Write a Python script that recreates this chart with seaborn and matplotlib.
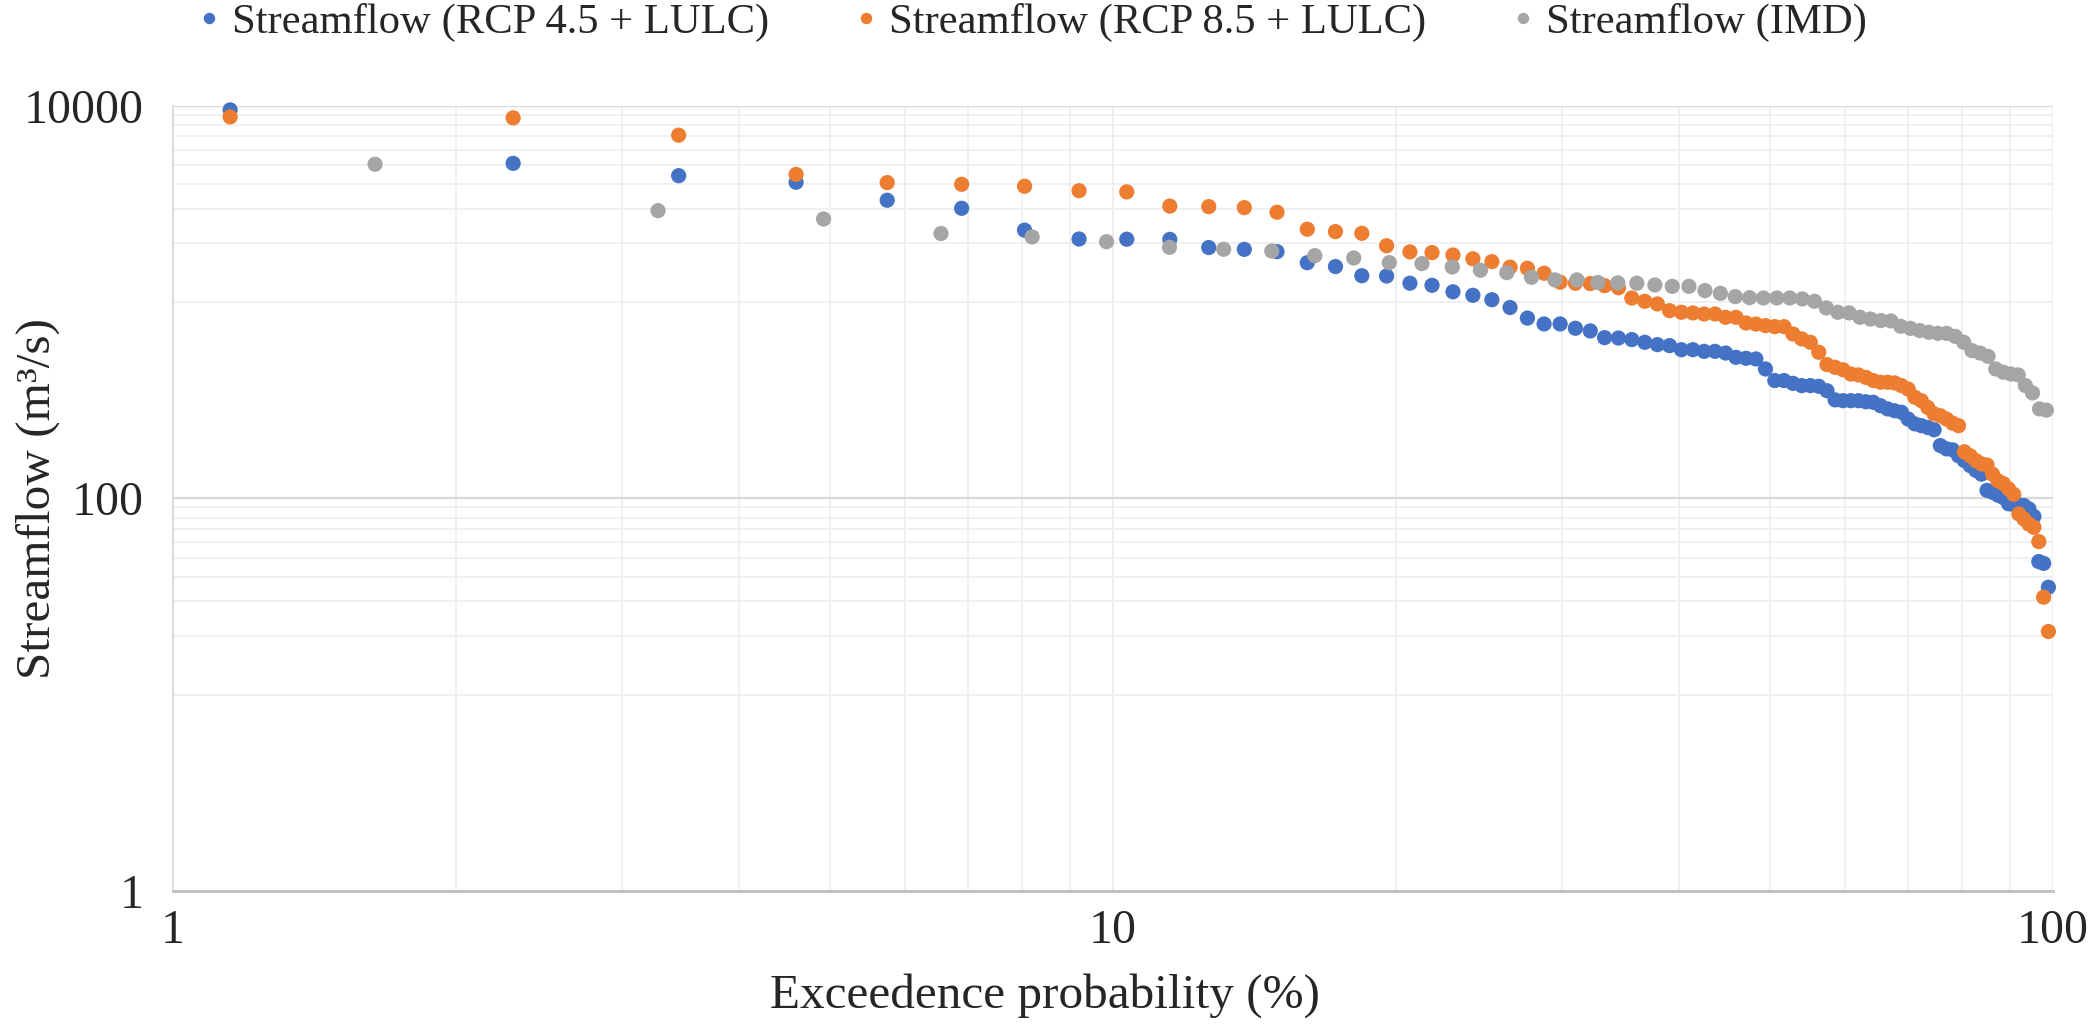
import pandas as pd
import seaborn as sns
import matplotlib
matplotlib.use('Agg')
from matplotlib import pyplot as plt
from matplotlib.ticker import FixedLocator, NullFormatter

# exceedence probability (%) of each ranked flow
x_rcp = [1.15, 2.30, 3.45, 4.60, 5.75, 6.90, 8.05, 9.20, 10.34, 11.49,
         12.64, 13.79, 14.94, 16.09, 17.24, 18.39, 19.54, 20.69, 21.84, 22.99,
         24.14, 25.29, 26.44, 27.59, 28.74, 29.89, 31.03, 32.18, 33.33, 34.48,
         35.63, 36.78, 37.93, 39.08, 40.23, 41.38, 42.53, 43.68, 44.83, 45.98,
         47.13, 48.28, 49.43, 50.57, 51.72, 52.87, 54.02, 55.17, 56.32, 57.47,
         58.62, 59.77, 60.92, 62.07, 63.22, 64.37, 65.52, 66.67, 67.82, 68.97,
         70.11, 71.26, 72.41, 73.56, 74.71, 75.86, 77.01, 78.16, 79.31, 80.46,
         81.61, 82.76, 83.91, 85.06, 86.21, 87.36, 88.51, 89.66, 90.80, 91.95,
         93.10, 94.25, 95.40, 96.55, 97.70, 98.85]
x_imd = [1.64, 3.28, 4.92, 6.56, 8.20, 9.84, 11.48, 13.11, 14.75, 16.39,
         18.03, 19.67, 21.31, 22.95, 24.59, 26.23, 27.87, 29.51, 31.15, 32.79,
         34.43, 36.07, 37.70, 39.34, 40.98, 42.62, 44.26, 45.90, 47.54, 49.18,
         50.82, 52.46, 54.10, 55.74, 57.38, 59.02, 60.66, 62.30, 63.93, 65.57,
         67.21, 68.85, 70.49, 72.13, 73.77, 75.41, 77.05, 78.69, 80.33, 81.97,
         83.61, 85.25, 86.89, 88.52, 90.16, 91.80, 93.44, 95.08, 96.72, 98.36]

# streamflow (m3/s)
flow_rcp45 = [9550, 5100, 4415, 4085, 3310, 3010, 2330, 2100, 2095, 2090,
              1900, 1860, 1810, 1590, 1520, 1365, 1360, 1250, 1220, 1130,
              1085, 1030, 940, 830, 775, 775, 737, 714, 660, 657,
              645, 625, 608, 601, 573, 573, 562, 562, 551, 524,
              518, 514, 457, 399, 399, 386, 376, 376, 373, 354,
              318, 315, 315, 315, 311, 309, 297, 286, 280, 275,
              254, 240, 235, 230, 224, 186, 179, 177, 165, 156,
              147, 139, 133, 110, 107.5, 104, 101, 94, 93, 92.7,
              92, 88.4, 81, 47.7, 46.7, 35.3]
flow_rcp85 = [8800, 8700, 7100, 4480, 4070, 3990, 3900, 3700, 3650, 3090,
              3070, 3035, 2875, 2355, 2290, 2245, 1940, 1805, 1790, 1740,
              1665, 1610, 1510, 1490, 1405, 1265, 1250, 1245, 1215, 1185,
              1050, 1011, 980, 906, 889, 882, 871, 871, 838, 838,
              784, 774, 760, 751, 751, 689, 650, 625, 556, 481,
              466, 453, 431, 426, 414, 399, 391, 391, 388, 376,
              361, 328, 315, 291, 270, 264, 254, 242, 235, 173,
              165, 156, 150, 148, 133, 123, 119, 112, 105, 83.4,
              78.6, 74, 71.3, 60.3, 31.4, 21]
flow_imd = [5050, 2930, 2655, 2240, 2150, 2035, 1905, 1862, 1824, 1727,
            1681, 1591, 1573, 1512, 1455, 1415, 1340, 1300, 1299, 1260,
            1255, 1250, 1224, 1205, 1205, 1146, 1110, 1068, 1055, 1051,
            1051, 1051, 1039, 1011, 935, 889, 882, 838, 821, 806,
            803, 754, 736, 717, 703, 694, 694, 670, 625, 567,
            551, 530, 457, 440, 431, 426, 376, 345, 286, 282]

series_names = ['Streamflow (RCP 4.5 + LULC)', 'Streamflow (RCP 8.5 + LULC)', 'Streamflow (IMD)']
colors = ['#4472C4', '#ED7D31', '#A5A5A5']
x_ticks = [1, 10, 100]
y_ticks = [1, 100, 10000]

df = pd.concat([
    pd.DataFrame({'prob': x_rcp, 'flow': flow_rcp45, 'series': series_names[0]}),
    pd.DataFrame({'prob': x_rcp, 'flow': flow_rcp85, 'series': series_names[1]}),
    pd.DataFrame({'prob': x_imd, 'flow': flow_imd, 'series': series_names[2]}),
], ignore_index=True)

sns.set_style('white')
plt.rcParams['font.family'] = ['Liberation Serif', 'DejaVu Serif']

fig = plt.figure(figsize=(20.88, 10.24), dpi=100)
ax = fig.add_axes([0.0829, 0.1299, 0.9004, 0.7666])

sns.scatterplot(data=df, x='prob', y='flow', hue='series', hue_order=series_names,
                palette=colors, s=120, linewidth=0, ax=ax, clip_on=False, zorder=3)

ax.set_xscale('log')
ax.set_yscale('log')
ax.set_xlim(1, 100)
ax.set_ylim(1, 10000)
ax.set_xticks(x_ticks, [str(t) for t in x_ticks])
ax.set_yticks(y_ticks, [str(t) for t in y_ticks])
ax.xaxis.set_minor_locator(FixedLocator([2, 3, 4, 5, 6, 7, 8, 9, 20, 30, 40, 50, 60, 70, 80, 90]))
ax.yaxis.set_minor_locator(FixedLocator([10, 20, 30, 40, 50, 60, 70, 80, 90,
                                         1000, 2000, 3000, 4000, 5000, 6000, 7000, 8000, 9000]))
ax.xaxis.set_minor_formatter(NullFormatter())
ax.yaxis.set_minor_formatter(NullFormatter())

ax.set_axisbelow(True)
ax.yaxis.grid(True, which='major', color='#D9D9D9', lw=1.6)
ax.xaxis.grid(True, which='major', color='#EDEDED', lw=1.3)
ax.grid(True, which='minor', color='#EFEFEF', lw=1.3)

ax.spines['top'].set_visible(False)
ax.spines['right'].set_visible(False)
ax.spines['left'].set_color('#D9D9D9')
ax.spines['left'].set_linewidth(1.3)
ax.spines['bottom'].set_color('#BFBFBF')
ax.spines['bottom'].set_linewidth(2)

ax.tick_params(axis='both', which='both', length=0, labelsize=34.5)
ax.tick_params(axis='y', pad=21)
ax.tick_params(axis='x', pad=13)

ax.set_xlabel('Exceedence probability (%)', fontsize=35.5)
ax.set_ylabel('Streamflow (m³/s)', fontsize=35.5)
# x label sits centred on the figure, not the plot area
ax.xaxis.set_label_coords(0.464, -0.105)
ax.yaxis.set_label_coords(-0.060, 0.5)

handles, labels = ax.get_legend_handles_labels()
ax.get_legend().remove()
fig.legend(handles, labels, loc='center', bbox_to_anchor=(0.494, 0.978), ncol=3,
           frameon=False, fontsize=30.7, handlelength=0.6, handletextpad=0.23,
           columnspacing=1.98, markerscale=0.75)

fig.savefig('out.png', dpi=100)
